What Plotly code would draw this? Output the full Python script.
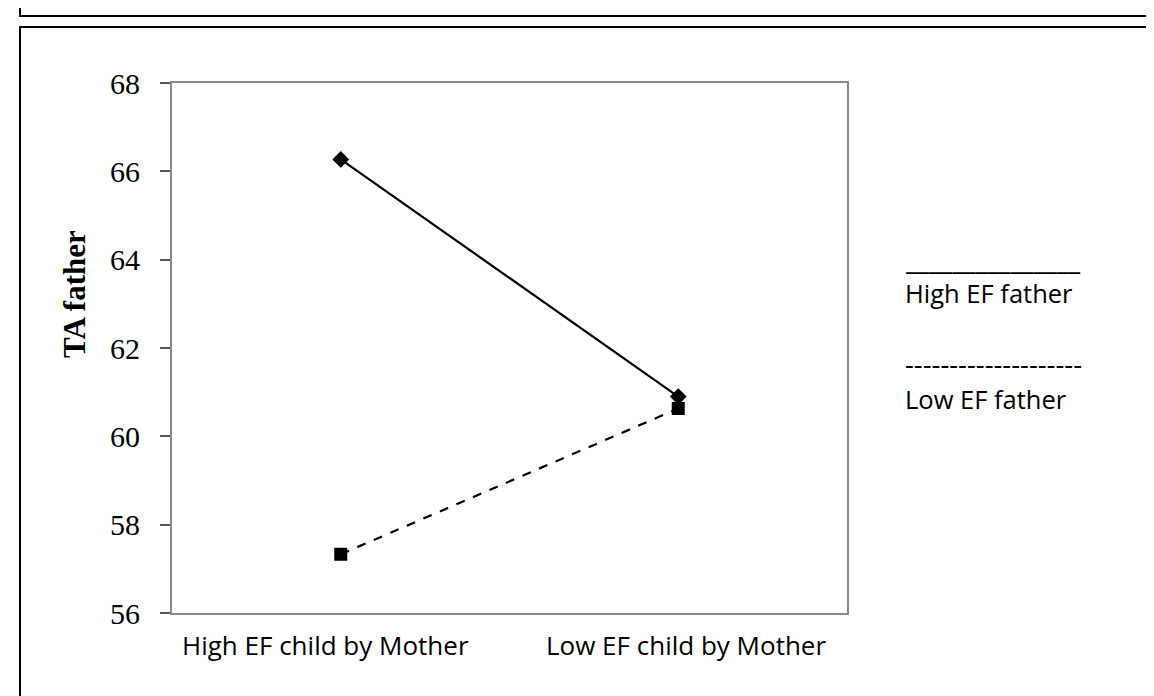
import plotly.graph_objects as go

categories = ["High EF child by Mother", "Low EF child by Mother"]
high_ef_father = [66.27, 60.9]
low_ef_father = [57.33, 60.63]
y_ticks = [56, 58, 60, 62, 64, 66, 68]

# page body has an 8px margin; work in screen coordinates
OFF = 8
SCREEN_W, SCREEN_H = 1154, 696
W, H = SCREEN_W - OFF, SCREEN_H - OFF
L, R, T, B = 172, 847, 83, 613  # plot area in screen pixels

def px(x):
    return (x - L) / (R - L)

def py(y):
    return (B - y) / (B - T)

fig = go.Figure()
fig.add_trace(go.Scatter(
    x=categories, y=high_ef_father, mode="lines+markers", name="High EF father",
    line=dict(color="black", width=2.2),
    marker=dict(symbol="diamond", size=13, color="black"),
))
fig.add_trace(go.Scatter(
    x=categories, y=low_ef_father, mode="lines+markers", name="Low EF father",
    line=dict(color="black", width=2.2, dash="dash"),
    marker=dict(symbol="square", size=13, color="black"),
))

shapes = [
    dict(type="rect", xref="paper", yref="paper", x0=px(20), x1=px(1200), y0=py(16), y1=py(-30),
         line=dict(color="black", width=2)),
    dict(type="rect", xref="paper", yref="paper", x0=px(20), x1=px(1200), y0=py(760), y1=py(27),
         line=dict(color="black", width=2)),
]

label_font = dict(family="Open Sans", size=26, color="black")
annotations = [
    dict(text=categories[0], x=px(180), y=py(645), xref="paper", yref="paper",
         xanchor="left", yanchor="middle", showarrow=False, font=label_font),
    dict(text=categories[1], x=px(828), y=py(645), xref="paper", yref="paper",
         xanchor="right", yanchor="middle", showarrow=False, font=label_font),
    dict(text="_______________", x=px(903), y=py(260), xref="paper", yref="paper",
         xanchor="left", yanchor="middle", showarrow=False,
         font=dict(family="Open Sans", size=26.5, color="black")),
    dict(text="High EF father", x=px(903), y=py(293), xref="paper", yref="paper",
         xanchor="left", yanchor="middle", showarrow=False,
         font=dict(family="Open Sans", size=25.5, color="black")),
    dict(text="--------------------", x=px(903), y=py(363), xref="paper", yref="paper",
         xanchor="left", yanchor="middle", showarrow=False,
         font=dict(family="Open Sans", size=27.5, color="black")),
    dict(text="Low EF father", x=px(903), y=py(399), xref="paper", yref="paper",
         xanchor="left", yanchor="middle", showarrow=False,
         font=dict(family="Open Sans", size=25.5, color="black")),
    dict(text="<b>TA father</b>", x=px(74), y=py(294), xref="paper", yref="paper",
         xanchor="center", yanchor="middle", showarrow=False, textangle=-90,
         font=dict(family="Liberation Serif", size=31, color="black")),
]

fig.update_layout(
    width=W, height=H,
    margin=dict(l=L - OFF, r=SCREEN_W - R, t=T - OFF, b=SCREEN_H - B),
    paper_bgcolor="white", plot_bgcolor="white",
    showlegend=False,
    shapes=shapes,
    annotations=annotations,
    xaxis=dict(
        type="category", range=[-0.5, 1.5],
        showgrid=False, zeroline=False, showline=True, linecolor="#888888", linewidth=2,
        mirror=True, ticks="", showticklabels=False,
    ),
    yaxis=dict(
        range=[56, 68], tickmode="array", tickvals=y_ticks,
        showgrid=False, zeroline=False, showline=True, linecolor="#888888", linewidth=2,
        mirror=True, ticks="outside", ticklen=10, tickcolor="#555555", tickwidth=1.5,
        tickfont=dict(family="Liberation Serif", size=30, color="black"),
        ticklabelstandoff=14,
    ),
)

fig.write_html("out.html")
